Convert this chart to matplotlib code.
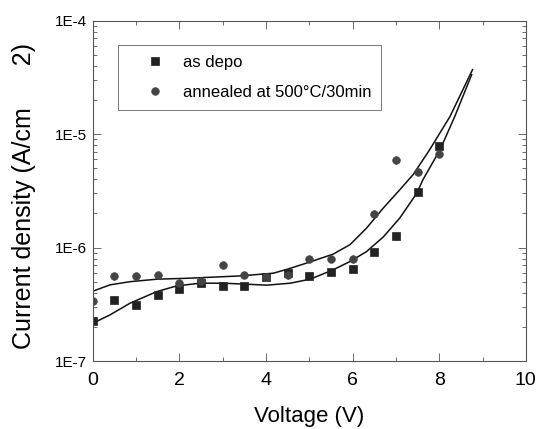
import matplotlib
matplotlib.use("Agg")
import matplotlib.pyplot as plt
from matplotlib.ticker import FixedLocator, LogLocator, NullFormatter, FixedFormatter

plt.rcParams['font.family'] = ['Liberation Sans', 'DejaVu Sans']

voltage = [0, 0.5, 1, 1.5, 2, 2.5, 3, 3.5, 4, 4.5, 5, 5.5, 6, 6.5, 7, 7.5, 8]
as_depo = [2.27e-7, 3.45e-7, 3.12e-7, 3.8e-7, 4.3e-7, 4.9e-7, 4.6e-7, 4.6e-7,
           5.48e-7, 5.94e-7, 5.66e-7, 6.14e-7, 6.45e-7, 9.1e-7, 1.27e-6, 3.08e-6, 7.8e-6]
annealed = [3.39e-7, 5.62e-7, 5.62e-7, 5.7e-7, 4.9e-7, 5.1e-7, 7.0e-7, 5.7e-7,
            5.5e-7, 5.7e-7, 7.9e-7, 7.9e-7, 7.9e-7, 1.98e-6, 5.94e-6, 4.59e-6, 6.7e-6]

fit_depo_v = [0, 0.4, 0.86, 1.48, 1.94, 2.48, 3.0, 3.4, 4.02, 4.56, 5.02, 5.55, 5.94,
              6.32, 6.71, 7.09, 7.48, 7.63, 8.02, 8.36, 8.75]
fit_depo = [2.15e-7, 2.55e-7, 3.23e-7, 4.09e-7, 4.59e-7, 4.85e-7, 4.85e-7, 4.78e-7,
            4.66e-7, 4.85e-7, 5.26e-7, 6.36e-7, 7.53e-7, 9.2e-7, 1.24e-6, 1.82e-6,
            3.0e-6, 4.0e-6, 7.28e-6, 1.43e-5, 3.34e-5]
fit_anneal_v = [0, 0.4, 0.86, 1.48, 2.25, 3.4, 4.17, 4.5, 4.94, 5.55, 5.94, 6.32, 6.71,
                7.09, 7.40, 7.78, 8.25, 8.77]
fit_anneal = [4.12e-7, 4.69e-7, 5.0e-7, 5.26e-7, 5.37e-7, 5.62e-7, 5.94e-7, 6.45e-7,
              7.3e-7, 8.74e-7, 1.06e-6, 1.48e-6, 2.23e-6, 3.23e-6, 4.4e-6, 7.28e-6,
              1.43e-5, 3.7e-5]

y_ticks = [1e-7, 1e-6, 1e-5, 1e-4]
y_labels = ['1E-7', '1E-6', '1E-5', '1E-4']
x_ticks = [0, 2, 4, 6, 8, 10]

fig = plt.figure(figsize=(5.36, 4.29), dpi=100)
ax = fig.add_axes([0.173, 0.1585, 0.808, 0.7935])

ax.plot(fit_depo_v, fit_depo, color='#111111', lw=1.1)
ax.plot(fit_anneal_v, fit_anneal, color='#111111', lw=1.1)
ax.plot(voltage, as_depo, 's', color='#222222', ms=5.5, label='as depo', markeredgewidth=0.5)
ax.plot(voltage, annealed, 'o', color='#444444', ms=5.5, label='annealed at 500\u00b0C/30min',
        markeredgewidth=0.5)

ax.set_yscale('log')
ax.set_xlim(0, 10)
ax.set_ylim(1e-7, 1e-4)
ax.yaxis.set_major_locator(FixedLocator(y_ticks))
ax.yaxis.set_major_formatter(FixedFormatter(y_labels))
ax.yaxis.set_minor_locator(LogLocator(base=10, subs=range(2, 10)))
ax.yaxis.set_minor_formatter(NullFormatter())
ax.xaxis.set_major_locator(FixedLocator(x_ticks))
ax.xaxis.set_minor_locator(FixedLocator([1, 3, 5, 7, 9]))

ax.tick_params(which='both', direction='in', top=True, right=True, width=0.6, color='#555555')
ax.tick_params(which='major', length=6)
ax.tick_params(which='minor', length=3)
ax.tick_params(axis='x', which='major', labelsize=14, pad=8)
ax.tick_params(axis='y', which='major', labelsize=11, pad=4)
for s in ax.spines.values():
    s.set_linewidth(0.8)
    s.set_color('#555555')

ax.set_xlabel('Voltage (V)', fontsize=16, labelpad=12)
ax.set_ylabel('Current density (A/cm      2)', fontsize=18, labelpad=14)
ax.yaxis.label.set_y(0.485)

leg = ax.legend(loc='upper left', bbox_to_anchor=(0.058, 0.929), fontsize=12,
                frameon=True, fancybox=False, edgecolor='#555555', handletextpad=0.1,
                borderpad=0.6, labelspacing=0.9, handlelength=3.2, borderaxespad=0)
leg.get_frame().set_linewidth(0.7)

fig.savefig('out.png', dpi=100)
